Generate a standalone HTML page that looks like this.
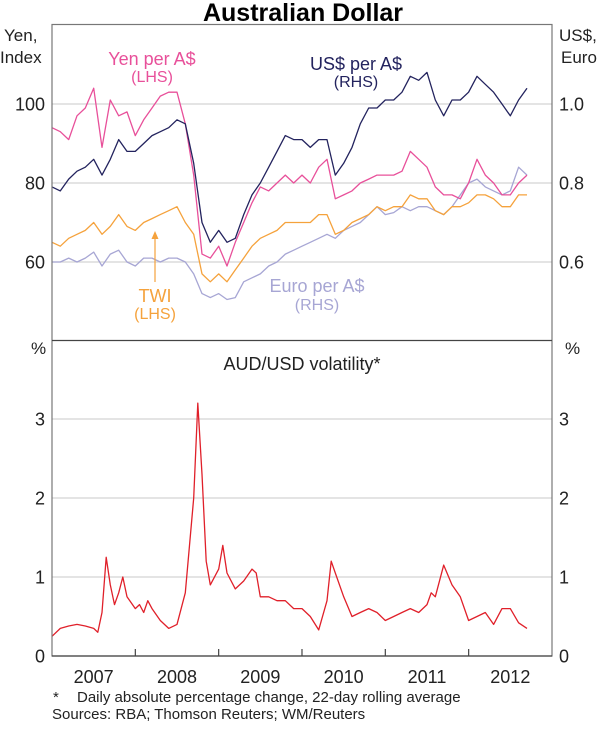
<!DOCTYPE html>
<html><head><meta charset="utf-8"><style>
body{margin:0;background:#fff;}
svg text{font-family:"Liberation Sans",Arial,sans-serif;}
</style></head><body>
<svg id="c" width="600" height="725" viewBox="0 0 600 725">
<text x="303" y="21" text-anchor="middle" font-size="25" font-weight="bold">Australian Dollar</text>
<g id="grid"></g>
<g id="lines"></g>
<rect x="52" y="24.5" width="500" height="631.5" fill="none" stroke="#777" stroke-width="1.2"/>
<line x1="52" y1="340.5" x2="552" y2="340.5" stroke="#444" stroke-width="1.2"/>
<line x1="52" y1="656" x2="552" y2="656" stroke="#444" stroke-width="1.3"/>
<g id="ticks"></g>
<g font-size="17" fill="#222">
<text x="4" y="41">Yen,</text>
<text x="0" y="63">Index</text>
<text x="559" y="41">US$,</text>
<text x="561" y="63">Euro</text>
<text x="31" y="354">%</text>
<text x="565" y="354">%</text>
</g>
<g font-size="18" text-anchor="middle">
<text x="152" y="65" fill="#e8509a">Yen per A$</text>
<text x="152" y="82" fill="#e8509a" font-size="16">(LHS)</text>
<text x="356" y="70" fill="#23235e">US$ per A$</text>
<text x="356" y="87" fill="#23235e" font-size="16">(RHS)</text>
<text x="155" y="302" fill="#f5a23c">TWI</text>
<text x="155" y="319" fill="#f5a23c" font-size="16">(LHS)</text>
<text x="317" y="292" fill="#a7a6d4">Euro per A$</text>
<text x="317" y="310" fill="#a7a6d4" font-size="16">(RHS)</text>
<text x="302" y="370" fill="#222">AUD/USD volatility*</text>
</g>
<line x1="155" y1="282" x2="155" y2="237" stroke="#f5a23c" stroke-width="1.2"/>
<polygon points="155,231 151.5,239 158.5,239" fill="#f5a23c"/>
<text x="53" y="702" font-size="15" fill="#222">*</text>
<text x="77" y="702" font-size="15" fill="#222">Daily absolute percentage change, 22-day rolling average</text>
<text x="52" y="719" font-size="15" fill="#222">Sources: RBA; Thomson Reuters; WM/Reuters</text>
</svg>
<script>
const dates=[];for(let i=0;i<58;i++)dates.push(2007+i/10);
const usd=[79,78,81,83,84,86,82,86,91,88,88,90,92,93,94,96,95,85,70,65,68,65,66,72,77,80,84,88,92,91,91,89,91,91,82,85,89,95,99,99,101,101,103,107,106,108,101,97,101,101,103,107,105,103,100,97,101,104];
const yen=[94,93,91,97,99,104,89,101,97,98,92,96,99,102,103,103,95,82,62,61,64,59,65,70,75,79,78,80,82,80,82,80,84,86,76,77,78,80,81,82,82,82,83,88,86,84,79,77,77,76,80,86,82,80,77,77,80,82];
const twi=[65,64,66,67,68,70,67,69,72,69,68,70,71,72,73,74,70,67,57,55,57,55,58,61,64,66,67,68,70,70,70,70,72,72,67,68,70,71,72,74,73,74,74,77,76,76,73,72,74,74,75,77,77,76,74,74,77,77];
const euro=[60,60,61,60,61,62.5,59,62,63,60,59,61,61,60,61,61,60,57,52,51,52,50.5,51,55,56,57,59,60,62,63,64,65,66,67,66,68,69,70,72,74,72,72.5,74,73,74,74,73,72,74,77,80,81,79,78,77,78,84,82];
const volDates=[2007,2007.1,2007.2,2007.3,2007.4,2007.5,2007.55,2007.6,2007.65,2007.7,2007.75,2007.8,2007.85,2007.9,2008,2008.05,2008.1,2008.15,2008.2,2008.3,2008.4,2008.5,2008.6,2008.65,2008.7,2008.75,2008.8,2008.85,2008.9,2009,2009.05,2009.1,2009.2,2009.3,2009.4,2009.45,2009.5,2009.6,2009.7,2009.8,2009.9,2010,2010.1,2010.2,2010.3,2010.35,2010.4,2010.5,2010.6,2010.7,2010.8,2010.9,2011,2011.1,2011.2,2011.3,2011.4,2011.5,2011.55,2011.6,2011.7,2011.8,2011.9,2012,2012.1,2012.2,2012.3,2012.4,2012.5,2012.6,2012.7];
const vol=[0.25,0.35,0.38,0.4,0.38,0.35,0.3,0.55,1.25,0.9,0.65,0.8,1.0,0.75,0.6,0.65,0.55,0.7,0.6,0.45,0.35,0.4,0.8,1.4,2.0,3.2,2.3,1.2,0.9,1.1,1.4,1.05,0.85,0.95,1.1,1.05,0.75,0.75,0.7,0.7,0.6,0.6,0.5,0.33,0.7,1.2,1.05,0.75,0.5,0.55,0.6,0.55,0.45,0.5,0.55,0.6,0.55,0.65,0.8,0.75,1.15,0.9,0.75,0.45,0.5,0.55,0.4,0.6,0.6,0.42,0.35];
const topTicks=[60,80,100];const topLabelsL=["60","80","100"];const topLabelsR=["0.6","0.8","1.0"];
const botTicks=[0,1,2,3];const botLabels=["0","1","2","3"];
const years=[2007,2008,2009,2010,2011,2012];
const NS="http://www.w3.org/2000/svg";
const X=t=>52+(t-2007)*83.33;
const YT=v=>104+(100-v)*3.95;
const YB=v=>656-v*79;
function mk(tag,attrs,parent){const e=document.createElementNS(NS,tag);for(const k in attrs)e.setAttribute(k,attrs[k]);document.getElementById(parent).appendChild(e);return e;}
topTicks.forEach((v,i)=>{
 const l=mk('line',{x1:52,x2:552,y1:YT(v),y2:YT(v),stroke:'#d4d4d4','stroke-width':1.2},'grid');
 
 
 const a=mk('text',{x:45,y:YT(v)+6.5,'text-anchor':'end','font-size':18,fill:'#222'},'ticks');a.textContent=topLabelsL[i];
 
 
 const b=mk('text',{x:559,y:YT(v)+6.5,'font-size':18,fill:'#222'},'ticks');b.textContent=topLabelsR[i];
 
 
});
botTicks.forEach((v,i)=>{
 if(v>0){const l=mk('line',{x1:52,x2:552,y1:YB(v),y2:YB(v),stroke:'#d4d4d4','stroke-width':1.2},'grid');
 
 }
 const a=mk('text',{x:45,y:YB(v)+6.5,'text-anchor':'end','font-size':18,fill:'#222'},'ticks');a.textContent=botLabels[i];
 
 
 const b=mk('text',{x:559,y:YB(v)+6.5,'font-size':18,fill:'#222'},'ticks');b.textContent=botLabels[i];
 
 
});
years.forEach((y,i)=>{
 if(i>0){const t=mk('line',{x1:X(y),x2:X(y),y1:656,y2:649,stroke:'#444','stroke-width':1.2},'ticks');
 
 }
 const a=mk('text',{x:X(y+0.5),y:683,'text-anchor':'middle','font-size':18,fill:'#222'},'ticks');a.textContent=String(y);
 
 
});
function line(xs,ys,fx,fy,color,name){
 const p=xs.map((t,i)=>fx(t).toFixed(1)+','+fy(ys[i]).toFixed(1)).join(' ');
 const e=mk('polyline',{points:p,fill:'none',stroke:color,'stroke-width':1.3,'stroke-linejoin':'round'},'lines');
 
 
}
line(dates,euro,X,YT,'#a7a6d4','euro-line');
line(dates,twi,X,YT,'#f5a23c','twi-line');
line(dates,yen,X,YT,'#e8509a','yen-line');
line(dates,usd,X,YT,'#23235e','usd-line');
line(volDates,vol,X,YB,'#e0202a','volatility-line');
</script>
</body></html>
